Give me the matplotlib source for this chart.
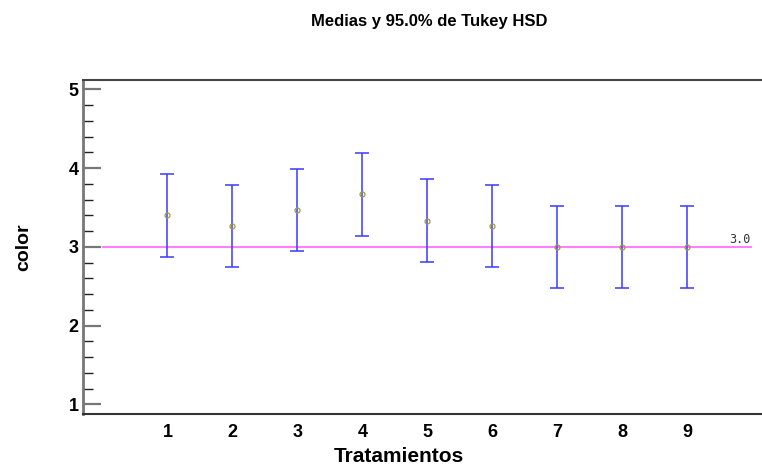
import matplotlib
matplotlib.use("Agg")
import matplotlib.pyplot as plt
from matplotlib.ticker import MultipleLocator

treatments = [1, 2, 3, 4, 5, 6, 7, 8, 9]
means = [3.40, 3.267, 3.467, 3.667, 3.333, 3.267, 3.0, 3.0, 3.0]
half_width = [0.525] * 9
grand_mean = 3.0

plt.rcParams['font.family'] = ['Liberation Sans', 'DejaVu Sans']

fig = plt.figure(figsize=(7.62, 4.68), dpi=100)
ax = fig.add_axes([83/762, 1-414/468, 1-83/762, (414-80)/468])

ax.hlines(grand_mean, 0, 10, colors='#ff80ff', linewidth=1.5, zorder=1)
ax.errorbar(treatments, means, yerr=half_width, fmt='none', ecolor='#3a3aff',
            elinewidth=1.1, capsize=5.2, capthick=1.1, zorder=2)
ax.plot(treatments, means, 'o', markersize=3.6, markerfacecolor='none',
        markeredgecolor='#a09a40', markeredgewidth=0.9, zorder=3)
ax.text(9.97, grand_mean + 0.015, '3.0', fontsize=8.5, family='DejaVu Sans Mono',
        color='#333333', ha='right', va='bottom')

ax.set_xlim(-0.3, 10.15)
ax.set_ylim(0.877, 5.12)
ax.set_xticks(treatments)
ax.set_xticklabels([str(t) for t in treatments])
ax.set_yticks([1, 2, 3, 4, 5])
ax.yaxis.set_minor_locator(MultipleLocator(0.2))
ax.tick_params(axis='x', length=0, pad=7, labelsize=13)
ax.tick_params(axis='y', which='major', direction='in', length=13, width=1.6,
               color='#777777', labelsize=13, pad=3)
ax.tick_params(axis='y', which='minor', direction='in', length=7, width=1,
               color='#222222')
for lab in ax.get_xticklabels() + ax.get_yticklabels():
    lab.set_fontweight('bold')

ax.spines['right'].set_visible(False)
ax.spines['top'].set_color('#444444')
ax.spines['top'].set_linewidth(1.5)
ax.spines['bottom'].set_color('#333333')
ax.spines['bottom'].set_linewidth(1.5)
ax.spines['left'].set_color('#777777')
ax.spines['left'].set_linewidth(2)

ax.set_xlabel('Tratamientos', fontsize=15, fontweight='bold')
ax.xaxis.set_label_coords(0.465, -0.1)
ax.set_ylabel('color', fontsize=14, fontweight='bold', labelpad=26)
fig.text(0.563, 0.953, 'Medias y 95.0% de Tukey HSD', fontsize=12,
         fontweight='bold', ha='center', va='center')

fig.savefig('out.png', dpi=100)
